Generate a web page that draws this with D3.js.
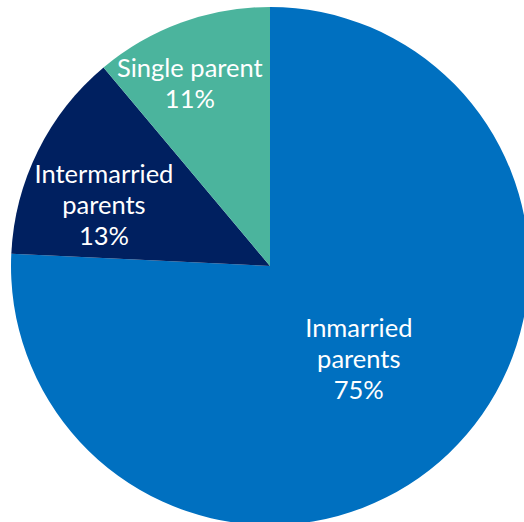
<!DOCTYPE html>
<html>
<head>
<meta charset="utf-8">
<script src="https://cdn.jsdelivr.net/npm/d3@7"></script>
<style>
  html, body { margin: 0; padding: 0; background: #fff; }
  svg { display: block; }
</style>
</head>
<body>
<svg id="chart" width="524" height="522"></svg>
<script>
// Family structure shares (percent)
const categories = ["Inmarried parents", "Intermarried parents", "Single parent"];
const labelLines = [["Inmarried", "parents"], ["Intermarried", "parents"], ["Single parent"]];
const values = [75, 13, 11];
const colors = ["#0070C0", "#002060", "#4BB49D"];

const width = 524, height = 522;
const cx = 270, cy = 266, radius = 259;
const lineHeight = 31;
// Label anchor per slice: distance from centre and angular nudge (degrees)
const labelPlacement = [
  { r: 135, shift: 2.5 },
  { r: 174, shift: -9 },
  { r: 191, shift: -4.8 }
];

const svg = d3.select("#chart");
const g = svg.append("g").attr("transform", `translate(${cx},${cy})`);

const pie = d3.pie().sort(null).value(d => d.value);
const arc = d3.arc().innerRadius(0).outerRadius(radius);

const data = categories.map((c, i) => ({ name: c, value: values[i], lines: labelLines[i], color: colors[i], idx: i }));
const arcs = pie(data);

g.selectAll("path.slice")
  .data(arcs)
  .join("path")
  .attr("class", "slice")
  .attr("d", arc)
  .attr("fill", d => d.data.color);

const labels = g.selectAll("text.label")
  .data(arcs)
  .join("text")
  .attr("class", "label")
  .attr("text-anchor", "middle")
  .attr("fill", "#ffffff")
  .style("font-family", "Lato, 'Open Sans', sans-serif")
  .style("font-size", "25.5px")
  .attr("transform", d => {
    const p = labelPlacement[d.data.idx];
    const a = (d.startAngle + d.endAngle) / 2 + p.shift * Math.PI / 180;
    return `translate(${p.r * Math.sin(a)},${-p.r * Math.cos(a)})`;
  });

labels.each(function(d) {
  const lines = d.data.lines.concat([d3.format(".0f")(d.data.value) + "%"]);
  const n = lines.length;
  const t = d3.select(this);
  lines.forEach((line, k) => {
    t.append("tspan")
      .attr("x", 0)
      .attr("y", (k - (n - 1) / 2) * lineHeight)
      .text(line);
  });
});
</script>
</body>
</html>
